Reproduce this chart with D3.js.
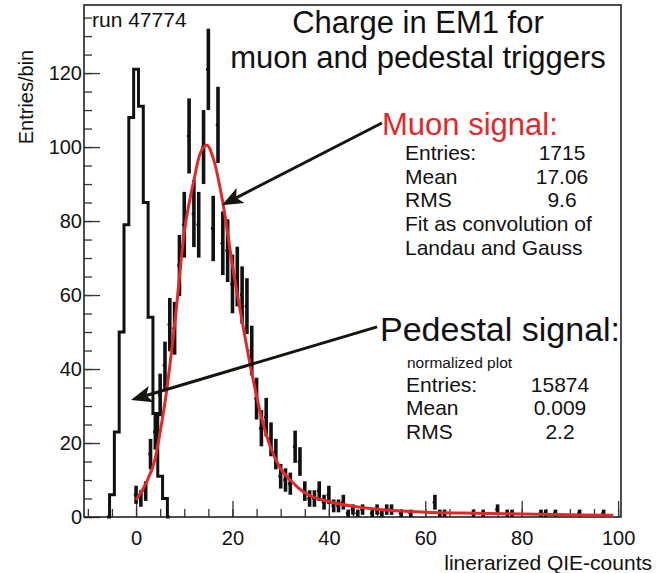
<!DOCTYPE html>
<html>
<head>
<meta charset="utf-8">
<script src="https://cdn.jsdelivr.net/npm/d3@7"></script>
<style>
  body { margin: 0; background: #fff; }
  svg { display: block; font-family: "Liberation Sans", Arial, sans-serif; }
  .axis text { font-size: 20px; fill: #111; }
  .axis line { stroke: #333; stroke-width: 1.3px; }
  .axis path { display: none; }
</style>
</head>
<body>
<svg width="664" height="573"></svg>
<script>
// pedestal trigger histogram (normalized), bin centres in QIE counts
var pedBins   = [-5, -4, -3, -2, -1, 0, 1, 2, 3, 4, 5, 6]
var pedCounts = [6, 23, 50, 79, 108, 121, 111, 85, 54, 28, 11, 5]

// muon trigger histogram, one bin per count starting at 0
var muonCounts = [
  6, 5, 7, 17, 23, 33, 41, 52, 51, 68,
  79, 103, 82, 79, 100, 121, 78, 106, 74, 72,
  63, 65, 60, 57, 45, 32, 24, 27, 21, 17,
  11, 10, 9, 19, 15, 7, 5, 5, 7, 4,
  6, 3, 3, 4, 1, 2, 1, 2, 0, 1,
  2, 1, 2, 2, 0, 1, 0, 1, 0, 0,
  0, 0, 4, 1, 1, 0, 0, 0, 0, 0,
  1, 0, 1, 0, 0, 2, 0, 1, 1, 0,
  0, 0, 0, 0, 1, 1, 0, 1, 0, 0,
  0, 0, 1, 0, 0, 0, 0, 1, 0, 0
]

// Landau (x) Gauss fit
var fitX = [0, 2, 4, 5, 6, 8, 10, 12, 13, 14, 14.7, 16, 18, 20, 22, 24, 26, 28, 30, 32, 34, 36, 40, 45, 50, 55, 60, 70, 80, 90, 99]
var fitY = [4.6, 9, 16, 23, 31, 52, 77, 91, 97, 100, 100.5, 97, 85, 68, 53, 39, 27, 18.5, 13, 10, 7.5, 5.8, 4.2, 2.9, 2.1, 1.6, 1.3, 1.0, 0.8, 0.6, 0.5]

var xMajor = [0, 20, 40, 60, 80, 100]
var yMajor = [0, 20, 40, 60, 80, 100, 120]

var muonStats = [['Entries:', '1715'], ['Mean', '17.06'], ['RMS', '9.6']]
var muonNotes = ['Fit as convolution of', 'Landau and Gauss']
var pedStats  = [['Entries:', '15874'], ['Mean', '0.009'], ['RMS', '2.2']]

var muonArrow = {from: [51, 106.5], to: [17.8, 84.3]}
var pedArrow  = {from: [50, 51.4],  to: [-1.05, 31.6]}


var svg = d3.select('svg')
var c = {left: 84, right: 621, top: 5, bottom: 517}

var x = d3.scaleLinear().domain([-10.8, 100.6]).range([c.left, c.right])
var y = d3.scaleLinear().domain([0, 138.4]).range([c.bottom, c.top])

svg.append('rect')
  .attr('width', 664).attr('height', 573).attr('fill', '#fff')

// axes: minor ticks every 5, long ticks every 20, pointing into the frame
svg.append('g').attr('class', 'axis')
  .attr('transform', `translate(0,${c.bottom})`)
  .call(d3.axisBottom(x).tickValues(d3.range(-10, 101, 5)).tickSize(-8).tickFormat(''))
svg.append('g').attr('class', 'axis')
  .attr('transform', `translate(0,${c.bottom})`)
  .call(d3.axisBottom(x).tickValues(xMajor).tickSize(-16).tickPadding(14))

svg.append('g').attr('class', 'axis')
  .attr('transform', `translate(${c.left},0)`)
  .call(d3.axisLeft(y).tickValues(d3.range(0, 136, 5)).tickSize(-8).tickFormat(''))
svg.append('g').attr('class', 'axis')
  .attr('transform', `translate(${c.left},0)`)
  .call(d3.axisLeft(y).tickValues(yMajor).tickSize(-16).tickPadding(2))

svg.append('rect')
  .attr('x', c.left).attr('y', c.top)
  .attr('width', c.right - c.left).attr('height', c.bottom - c.top)
  .attr('fill', 'none').attr('stroke', '#222').attr('stroke-width', 1.6)

// pedestal: step outline closed down to zero on both sides
var pedPts = [[pedBins[0] - 1, 0]]
  .concat(pedBins.map((d, i) => [d, pedCounts[i]]))
  .concat([[pedBins[pedBins.length - 1] + 1, 0]])

svg.append('path')
  .attr('d', d3.line().x(d => x(d[0])).y(d => y(d[1])).curve(d3.curveStep)(pedPts))
  .attr('fill', 'none').attr('stroke', '#111').attr('stroke-width', 3)
  .attr('stroke-linejoin', 'miter')

// muon: error bars +- sqrt(N)
var muon = muonCounts.map((n, k) => ({k, n})).filter(d => d.n > 0)

svg.append('g').selectAll('line').data(muon).join('line')
  .attr('x1', d => x(d.k)).attr('x2', d => x(d.k))
  .attr('y1', d => y(d.n - Math.sqrt(d.n))).attr('y2', d => y(d.n + Math.sqrt(d.n)))
  .attr('stroke', '#111').attr('stroke-width', 3.6)

svg.append('g').selectAll('circle').data(muon).join('circle')
  .attr('cx', d => x(d.k) - 0.6).attr('cy', d => y(d.n)).attr('r', 1.8)
  .attr('fill', '#111')

// fit curve
svg.append('path')
  .attr('d', d3.line().x(d => x(d[0])).y(d => y(d[1])).curve(d3.curveMonotoneX)(fitX.map((d, i) => [d, fitY[i]])))
  .attr('fill', 'none').attr('stroke', '#e3282a').attr('stroke-width', 3)

// arrows
function drawArrow(a){
  var x1 = x(a.from[0]), y1 = y(a.from[1]), x2 = x(a.to[0]), y2 = y(a.to[1])
  var len = Math.hypot(x2 - x1, y2 - y1), ux = (x2 - x1) / len, uy = (y2 - y1) / len
  var hl = 21, hw = 8.5
  var bx = x2 - ux * hl, by = y2 - uy * hl
  var nx = x2 - ux * (hl - 5), ny = y2 - uy * (hl - 5)
  svg.append('line')
    .attr('x1', x1).attr('y1', y1).attr('x2', nx).attr('y2', ny)
    .attr('stroke', '#151510').attr('stroke-width', 3)
  svg.append('path')
    .attr('d', `M${x2},${y2}L${bx - uy * hw},${by + ux * hw}L${nx},${ny}L${bx + uy * hw},${by - ux * hw}Z`)
    .attr('fill', '#151510')
}
drawArrow(muonArrow)
drawArrow(pedArrow)

// texts
function txt(s, px, py, size, opts){
  opts = opts || {}
  return svg.append('text')
    .attr('x', px).attr('y', py)
    .attr('font-size', size)
    .attr('fill', opts.fill || '#111')
    .attr('text-anchor', opts.anchor || 'start')
    .text(s)
}

txt('run 47774', 92, 27, 21)
txt('Charge in EM1 for', 418, 33, 31, {anchor: 'middle'})
txt('muon and pedestal triggers', 418, 68, 31, {anchor: 'middle'})

txt('Muon signal:', 382, 135, 31, {fill: '#e3282a'})
muonStats.forEach((d, i) => {
  txt(d[0], 405, 160 + i * 23.5, 21)
  txt(d[1], 562, 160 + i * 23.5, 21, {anchor: 'middle'})
})
muonNotes.forEach((d, i) => txt(d, 405, 231 + i * 24, 21))

txt('Pedestal signal:', 380, 341, 34)
txt('normalized plot', 407, 368, 15.5)
pedStats.forEach((d, i) => {
  txt(d[0], 406, 392 + i * 23.3, 21)
  txt(d[1], 560, 392 + i * 23.3, 21, {anchor: 'middle'})
})

txt('linerarized QIE-counts', 652, 570, 21, {anchor: 'end'})
svg.append('text')
  .attr('transform', 'translate(33,97) rotate(-90)')
  .attr('text-anchor', 'middle').attr('font-size', 20).attr('fill', '#111')
  .text('Entries/bin')
</script>
</body>
</html>
